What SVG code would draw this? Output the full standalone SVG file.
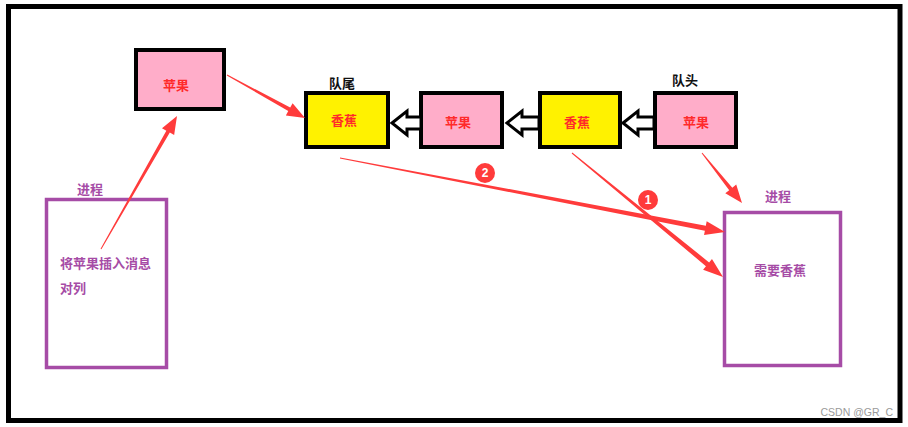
<svg xmlns="http://www.w3.org/2000/svg" width="908" height="427" viewBox="0 0 908 427">
<style>
.t{font-family:"Noto Sans CJK SC","Noto Sans",sans-serif;font-weight:bold;font-size:13px;text-anchor:middle;dominant-baseline:central}
.red{fill:#ff2a2a}
.blk{fill:#111}
.pur{fill:#a64ca6}
.pink{fill:#ffadc9;stroke:#000;stroke-width:4}
.yel{fill:#fff200;stroke:#000;stroke-width:4}
.proc{fill:#fff;stroke:#a64ca6;stroke-width:3.5}
.hol{fill:#fff;stroke:#000;stroke-width:3;stroke-linejoin:miter}
.ra{fill:#ff3b3b}
.badge{fill:#ff3b3b}
.bt{font-family:"Liberation Sans",sans-serif;font-weight:bold;font-size:12px;fill:#fff;text-anchor:middle;dominant-baseline:central}
</style>
<rect x="0" y="0" width="908" height="427" fill="#fff"/>
<rect x="8.5" y="6.5" width="891.5" height="414" fill="none" stroke="#000" stroke-width="5"/>

<g id="apple-new">
<rect class="pink" x="136" y="50" width="88" height="59"/>
<text class="t red" x="176" y="84">苹果</text>
</g>
<g id="tail-banana">
<text class="t blk" x="342" y="82">队尾</text>
<rect class="yel" x="306" y="93" width="82" height="54"/>
<text class="t red" x="344" y="119">香蕉</text>
</g>
<g id="apple-2">
<rect class="pink" x="421" y="93" width="81" height="54"/>
<text class="t red" x="458" y="121">苹果</text>
</g>
<g id="banana-2">
<rect class="yel" x="540" y="93" width="80" height="54"/>
<text class="t red" x="577" y="121">香蕉</text>
</g>
<g id="head-apple">
<text class="t blk" x="685" y="79">队头</text>
<rect class="pink" x="655" y="93" width="81" height="54"/>
<text class="t red" x="696" y="121">苹果</text>
</g>
<g id="process-left">
<text class="t pur" x="90" y="188">进程</text>
<rect class="proc" x="46.5" y="199.5" width="120" height="168"/>
<text class="t pur" x="60" y="262" style="text-anchor:start">将苹果插入消息</text>
<text class="t pur" x="60" y="287" style="text-anchor:start">对列</text>
</g>
<g id="process-right">
<text class="t pur" x="778" y="195">进程</text>
<rect class="proc" x="724.5" y="212.5" width="116" height="153"/>
<text class="t pur" x="780" y="269">需要香蕉</text>
</g>

<g id="connectors">
<path class="hol" d="M392,123 L407,111 L407,117 L421,117 L421,129 L407,129 L407,135 Z"/>
<path class="hol" d="M507,123 L522,111 L522,117 L539,117 L539,129 L522,129 L522,135 Z"/>
<path class="hol" d="M623,123 L638,111 L638,117 L654,117 L654,129 L638,129 L638,135 Z"/>
<polygon class="ra" points="226.76,75.44 288.27,111.06 285.86,115.44 305,118 292.62,103.18 290.21,107.56 227.24,74.56"/>
<polygon class="ra" points="101.43,249.25 169.81,132.62 174.15,135.10 177,116 161.99,128.16 166.33,130.64 100.57,248.75"/>
<polygon class="ra" points="339.91,158.49 704.89,230.68 704.04,235.09 725,232 706.68,221.35 705.83,225.76 340.09,157.51"/>
<polygon class="ra" points="571.68,153.39 705.95,266.24 703.10,269.72 723,277 711.98,258.90 709.13,262.38 572.32,152.61"/>
<polygon class="ra" points="701.61,153.31 729.20,190.19 725.29,193.31 742,203 736.23,184.57 732.32,187.69 702.39,152.69"/>
<circle class="badge" cx="485" cy="173" r="10"/>
<text class="bt" x="485" y="173">2</text>
<circle class="badge" cx="648" cy="200" r="10"/>
<text class="bt" x="648" y="200">1</text>
</g>

<text x="893" y="412" font-family="Liberation Sans,sans-serif" font-size="10.5" fill="#9a9a9a" text-anchor="end" dominant-baseline="central">CSDN @GR_C</text>
</svg>
